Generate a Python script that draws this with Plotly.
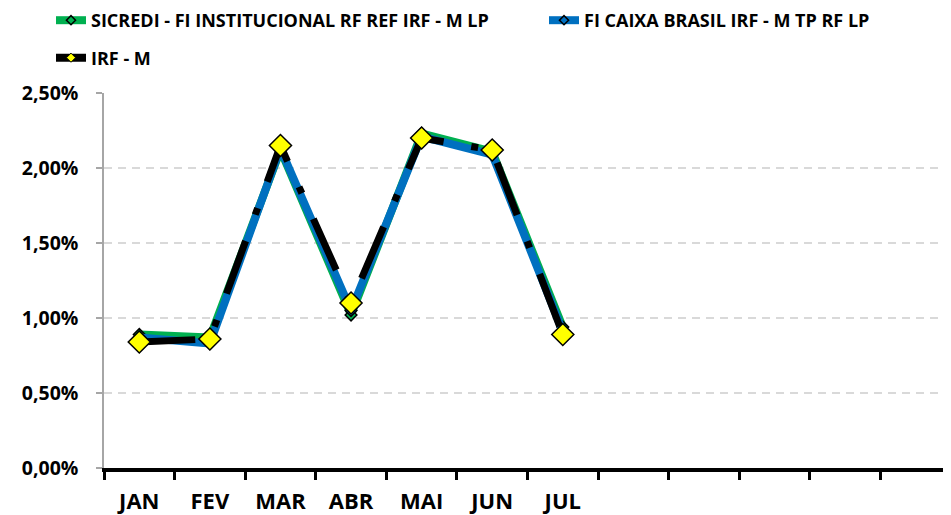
import plotly.graph_objects as go

MONTHS = ["JAN", "FEV", "MAR", "ABR", "MAI", "JUN", "JUL", "AGO", "SET", "OUT", "NOV", "DEZ"]
TICK_LABELS = ["JAN", "FEV", "MAR", "ABR", "MAI", "JUN", "JUL", "", "", "", "", ""]
SERIES_NAMES = ["SICREDI - FI INSTITUCIONAL RF REF IRF - M LP",
                "FI CAIXA BRASIL IRF - M TP RF LP",
                "IRF - M"]
SICREDI = [0.89, 0.87, 2.12, 1.02, 2.23, 2.11, 0.94]
CAIXA = [0.87, 0.83, 2.13, 1.05, 2.21, 2.09, 0.91]
IRFM = [0.84, 0.86, 2.15, 1.10, 2.20, 2.12, 0.89]
Y_TICKS = [0.0, 0.5, 1.0, 1.5, 2.0, 2.5]
Y_TICK_LABELS = ["0,00%", "0,50%", "1,00%", "1,50%", "2,00%", "2,50%"]

FONT = "Open Sans, sans-serif"
x = MONTHS[:len(IRFM)]

# page body has an 8px margin; figure is sized so the plot fits the 951x515 window
W, H = 943, 507

fig = go.Figure()
# real data traces
fig.add_trace(go.Scatter(x=x, y=SICREDI, mode="lines+markers", showlegend=False,
                         line=dict(color="#00b050", width=8),
                         marker=dict(symbol="diamond", size=9, color="#00b050",
                                     line=dict(color="black", width=1.5))))
fig.add_trace(go.Scatter(x=x, y=CAIXA, mode="lines+markers", showlegend=False,
                         line=dict(color="#0070c0", width=8),
                         marker=dict(symbol="diamond", size=9, color="#0070c0",
                                     line=dict(color="black", width=1.5))))
fig.add_trace(go.Scatter(x=x, y=IRFM, mode="lines+markers", showlegend=False,
                         line=dict(color="black", width=7, dash="56px,28px,7px,28px"),
                         marker=dict(symbol="diamond", size=17, color="#ffff00",
                                     line=dict(color="black", width=1.5))))
# legend entries
fig.add_trace(go.Scatter(x=[None], y=[None], mode="lines+markers", name=SERIES_NAMES[0],
                         legend="legend",
                         line=dict(color="#00b050", width=8),
                         marker=dict(symbol="diamond", size=7, color="#00b050",
                                     line=dict(color="black", width=1.5))))
fig.add_trace(go.Scatter(x=[None], y=[None], mode="lines+markers", name=SERIES_NAMES[1],
                         legend="legend3",
                         line=dict(color="#0070c0", width=8),
                         marker=dict(symbol="diamond", size=7, color="#0070c0",
                                     line=dict(color="black", width=1.5))))
fig.add_trace(go.Scatter(x=[None], y=[None], mode="lines+markers", name=SERIES_NAMES[2],
                         legend="legend2",
                         line=dict(color="black", width=8),
                         marker=dict(symbol="diamond", size=7, color="#ffff00",
                                     line=dict(color="black", width=1))))

legend_font = dict(family=FONT, size=18, color="black", weight="bold")


def leg(xpx, ypx, anchor="middle"):
    return dict(orientation="h", xref="container", yref="container",
                x=xpx / W, y=1 - ypx / H, xanchor="left", yanchor=anchor,
                font=legend_font, bgcolor="rgba(0,0,0,0)")


fig.update_layout(
    width=W, height=H,
    margin=dict(l=96, r=0, t=85, b=47, autoexpand=False),
    paper_bgcolor="white", plot_bgcolor="white",
    showlegend=True,
    legend=leg(43, 12.5),
    legend3=leg(536, 12.5),
    legend2=leg(43, 50),
    xaxis=dict(type="category", categoryorder="array", categoryarray=MONTHS,
               range=[-0.5, 11.5], tickvals=MONTHS, ticktext=TICK_LABELS,
               tickson="boundaries", ticks="outside", ticklen=8, tickwidth=3,
               tickcolor="black", showline=True, linecolor="black", linewidth=4,
               showgrid=False, zeroline=False, ticklabelstandoff=11, automargin=False,
               tickfont=dict(family=FONT, size=22, color="black", weight="bold")),
    yaxis=dict(range=[0, 2.5], tickvals=Y_TICKS, ticktext=Y_TICK_LABELS,
               showline=True, linecolor="#a6a6a6", linewidth=1.5,
               ticks="outside", ticklen=6, tickwidth=1.5, tickcolor="#a6a6a6",
               showgrid=True, gridcolor="#d9d9d9", gridwidth=1.5, griddash="8px,6px",
               zeroline=False, ticklabelstandoff=14, automargin=False,
               tickfont=dict(family=FONT, size=19.5, color="black", weight="bold")),
)

fig.write_html("out.html")
